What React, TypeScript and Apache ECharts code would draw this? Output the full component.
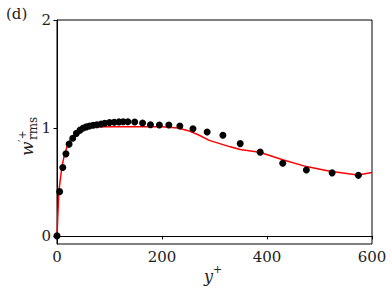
import React, { useEffect, useRef } from "react";
import * as echarts from "echarts";

const dnsYPlus = [0, 5, 11, 17, 23, 30, 37, 44, 50, 56, 62, 69, 76, 84, 91, 100, 109, 118, 126, 135, 148, 163, 178, 195, 213, 234, 259, 286, 316, 349, 387, 430, 475, 524, 574];
const dnsW = [0, 0.41, 0.633, 0.76, 0.85, 0.905, 0.95, 0.98, 1.0, 1.01, 1.018, 1.025, 1.03, 1.037, 1.043, 1.05, 1.053, 1.056, 1.058, 1.058, 1.055, 1.045, 1.03, 1.027, 1.027, 1.018, 0.992, 0.963, 0.933, 0.855, 0.776, 0.673, 0.611, 0.584, 0.561];

const lesYPlus = [0, 3.5, 9, 14, 20, 27, 35, 42, 51, 70, 100, 150, 200, 230, 250, 270, 290, 330, 349, 386, 430, 475, 520, 573, 600];
const lesW = [0, 0.41, 0.63, 0.75, 0.84, 0.905, 0.945, 0.97, 1.0, 1.008, 1.012, 1.012, 1.01, 1.0, 0.975, 0.935, 0.885, 0.825, 0.8, 0.775, 0.705, 0.642, 0.598, 0.565, 0.588];

const xTicks = [0, 200, 400, 600];
const yTicks = [0, 1, 2];

const FONT = "DejaVu Serif";

export default function App() {
  const ref = useRef<HTMLDivElement>(null);
  useEffect(() => {
    document.body.style.margin = "0";
    const chart = echarts.init(ref.current!, null, { renderer: "svg" });
    chart.setOption({
      animation: false,
      backgroundColor: "#ffffff",
      textStyle: { fontFamily: FONT },
      grid: {
        left: 57,
        top: 20,
        width: 315,
        height: 224,
        show: true,
        borderColor: "#000",
        borderWidth: 1,
        backgroundColor: "transparent",
      },
      xAxis: {
        type: "value",
        min: 0,
        max: 600,
        interval: 200,
        splitLine: { show: false },
        axisLine: { show: true, lineStyle: { color: "#000", width: 1 } },
        axisTick: { show: true, inside: false, length: 3.5, lineStyle: { color: "#000" } },
        axisLabel: {
          customValues: xTicks,
          margin: 5,
          color: "#222",
          fontFamily: FONT,
          fontSize: 15,
        },
      },
      yAxis: {
        type: "value",
        min: -0.075,
        max: 2,
        splitLine: { show: false },
        axisLine: { show: true, onZero: false, lineStyle: { color: "#000", width: 1 } },
        axisTick: { show: true, inside: false, length: 3.5, customValues: yTicks, lineStyle: { color: "#000" } },
        axisLabel: {
          customValues: yTicks,
          margin: 6,
          color: "#222",
          fontFamily: FONT,
          fontSize: 15,
        },
      },
      graphic: [
        {
          type: "text",
          left: 6,
          top: 6,
          style: { text: "(d)", fontFamily: FONT, fontSize: 15, fill: "#222" },
        },
        {
          type: "group",
          x: 30,
          y: 134,
          rotation: Math.PI / 2,
          children: [
            {
              type: "text",
              x: -22,
              y: -3,
              style: { text: "w", fontFamily: FONT, fontStyle: "italic", fontSize: 17, fill: "#222", align: "left", verticalAlign: "middle" },
            },
            {
              type: "text",
              x: -8,
              y: -8,
              style: { text: "\u2032+", fontFamily: FONT, fontSize: 11, fill: "#222", align: "left", verticalAlign: "middle" },
            },
            {
              type: "text",
              x: -6,
              y: 3,
              style: { text: "rms", fontFamily: FONT, fontSize: 12, fill: "#222", align: "left", verticalAlign: "middle" },
            },
          ],
        },
        {
          type: "text",
          x: 204,
          y: 276,
          style: { text: "y", fontFamily: FONT, fontStyle: "italic", fontSize: 16, fill: "#222", align: "left", verticalAlign: "middle" },
        },
        {
          type: "text",
          x: 213,
          y: 269,
          style: { text: "+", fontFamily: FONT, fontSize: 11, fill: "#222", align: "left", verticalAlign: "middle" },
        },
      ],
      series: [
        {
          type: "line",
          data: lesYPlus.map((x, i) => [x, lesW[i]]),
          showSymbol: false,
          symbol: "none",
          lineStyle: { color: "#ff0000", width: 1.5 },
          z: 2,
        },
        {
          type: "scatter",
          data: dnsYPlus.map((x, i) => [x, dnsW[i]]),
          symbol: "circle",
          symbolSize: 7,
          itemStyle: { color: "#000", opacity: 1 },
          z: 3,
        },
      ],
    });
    return () => chart.dispose();
  }, []);
  return <div ref={ref} style={{ width: 392, height: 294 }} />;
}
